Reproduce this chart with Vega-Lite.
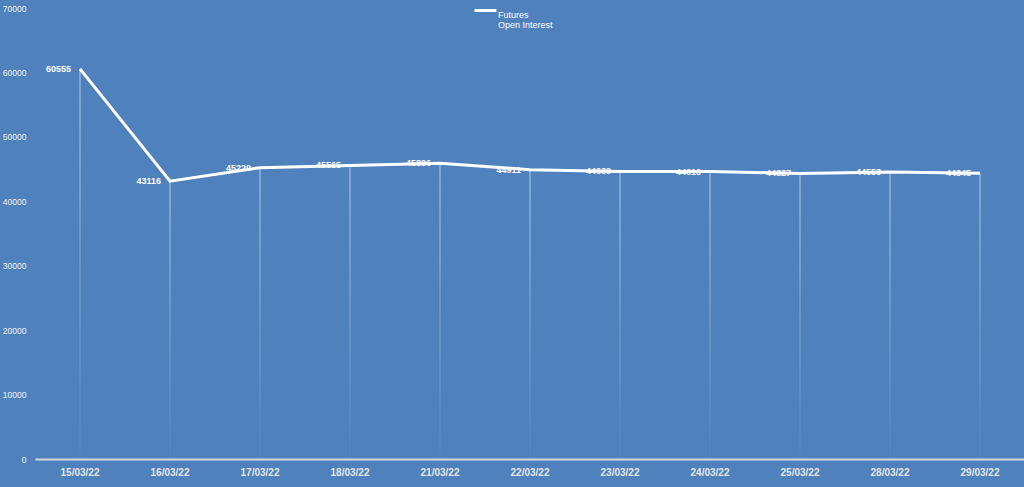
{
  "$schema": "https://vega.github.io/schema/vega-lite/v6.json",
  "width": 990,
  "height": 451,
  "autosize": {"type": "none"},
  "padding": {"left": 35, "top": 8, "right": 0, "bottom": 28},
  "background": "#4F81BD",
  "config": {
    "view": {"stroke": null},
    "font": "Liberation Sans",
    "style": {"guide-label": {"lineHeight": 10}}
  },
  "data": {
    "values": [
      {"date": "15/03/22", "oi": 60555, "series": "Futures Open Interest"},
      {"date": "16/03/22", "oi": 43116, "series": "Futures Open Interest"},
      {"date": "17/03/22", "oi": 45220, "series": "Futures Open Interest"},
      {"date": "18/03/22", "oi": 45565, "series": "Futures Open Interest"},
      {"date": "21/03/22", "oi": 45896, "series": "Futures Open Interest"},
      {"date": "22/03/22", "oi": 44911, "series": "Futures Open Interest"},
      {"date": "23/03/22", "oi": 44639, "series": "Futures Open Interest"},
      {"date": "24/03/22", "oi": 44616, "series": "Futures Open Interest"},
      {"date": "25/03/22", "oi": 44327, "series": "Futures Open Interest"},
      {"date": "28/03/22", "oi": 44553, "series": "Futures Open Interest"},
      {"date": "29/03/22", "oi": 44345, "series": "Futures Open Interest"}
    ]
  },
  "encoding": {
    "x": {
      "field": "date",
      "type": "ordinal",
      "sort": null,
      "scale": {"paddingInner": 0, "paddingOuter": 0},
      "axis": {
        "title": null,
        "labelAngle": 0,
        "ticks": false,
        "domainColor": "#D9D9D9",
        "domainWidth": 2,
        "labelColor": "#E6E6E6",
        "labelFont": "Liberation Sans",
        "labelFontWeight": "bold",
        "labelFontSize": 10,
        "labelPadding": 8,
        "grid": false
      }
    },
    "y": {
      "field": "oi",
      "type": "quantitative",
      "scale": {"domain": [0, 70000], "nice": false},
      "axis": {
        "title": null,
        "values": [0, 10000, 20000, 30000, 40000, 50000, 60000, 70000],
        "format": "d",
        "ticks": false,
        "domain": false,
        "grid": false,
        "labelColor": "#F2F2F2",
        "labelFontSize": 8.5,
        "labelPadding": 9
      }
    }
  },
  "layer": [
    {
      "mark": {
        "type": "bar",
        "size": 1,
        "fill": {
          "gradient": "linear",
          "x1": 0, "y1": 0, "x2": 0, "y2": 1,
          "stops": [
            {"offset": 0, "color": "rgba(255,255,255,0.6)"},
            {"offset": 1, "color": "rgba(255,255,255,0.03)"}
          ]
        }
      }
    },
    {
      "mark": {"type": "line", "strokeWidth": 3},
      "encoding": {
        "color": {
          "field": "series",
          "type": "nominal",
          "scale": {"range": ["#FFFFFF"]},
          "legend": {
            "title": null,
            "orient": "none",
            "legendX": 438,
            "legendY": -10,
            "symbolType": "stroke",
            "symbolStrokeWidth": 3,
            "symbolSize": 480,
            "labelColor": "#FFFFFF",
            "labelFontSize": 9,
            "labelBaseline": "top",
            "labelOffset": 0,
            "labelExpr": "['Futures', 'Open Interest']"
          }
        }
      }
    },
    {
      "mark": {
        "type": "text",
        "align": "right",
        "baseline": "middle",
        "dx": -9,
        "dy": 0,
        "fontSize": 9,
        "fontWeight": "bold",
        "color": "#FFFFFF"
      },
      "encoding": {
        "text": {"field": "oi", "type": "quantitative", "format": "d"}
      }
    }
  ]
}
